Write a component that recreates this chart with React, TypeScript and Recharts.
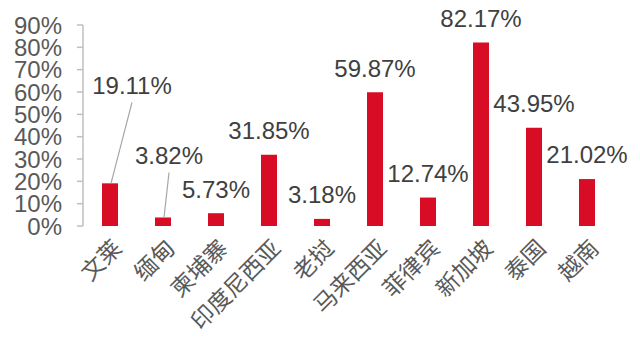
import { BarChart, Bar, XAxis, YAxis, LabelList } from "recharts";

const countries = ["文莱", "缅甸", "柬埔寨", "印度尼西亚", "老挝", "马来西亚", "菲律宾", "新加坡", "泰国", "越南"];
const shares = [19.11, 3.82, 5.73, 31.85, 3.18, 59.87, 12.74, 82.17, 43.95, 21.02];
const yTicks = [0, 10, 20, 30, 40, 50, 60, 70, 80, 90];
const edgeTicks = [0, 1, 2, 3, 4, 5, 6, 7, 8, 9, 10];

// label placement per bar: [shift right, rise above bar top]; big rise gets a leader line
const labelPos: [number, number][] = [
  [22, 98], [6, 62], [0, 24], [0, 24], [0, 24],
  [0, 24], [0, 24], [0, 24], [0, 24], [0, 24],
];

const data = countries.map((name, i) => ({ name, value: shares[i] }));

const RED = "#D80C24";
const FONT = "'Liberation Sans', Arial, sans-serif";

// eslint-disable-next-line @typescript-eslint/no-explicit-any
function ValueLabel(props: any) {
  const { x, y, width, value, index } = props;
  const [dx, rise] = labelPos[index] ?? [0, 24];
  const cx = Number(x) + Number(width) / 2;
  const top = Number(y);
  const ty = top - rise;
  return (
    <g>
      {rise > 30 && (
        <line x1={cx + dx} y1={ty + 17} x2={cx + 1} y2={top} stroke="#a6a6a6" strokeWidth={1.2} />
      )}
      <text x={cx + dx} y={ty} dy="0.35em" textAnchor="middle" fontSize={24} fill="#404040" fontFamily={FONT}>
        {Number(value).toFixed(2)}%
      </text>
    </g>
  );
}

// eslint-disable-next-line @typescript-eslint/no-explicit-any
function CountryTick({ x, y, payload }: any) {
  const ax = x + 8;
  const ay = y + 10;
  return (
    <text
      x={ax} y={ay} dy="0.35em"
      transform={`rotate(-45 ${ax} ${ay})`}
      textAnchor="end" fontSize={23} fill="#595959"
      fontFamily="'Noto Sans CJK SC', sans-serif"
    >
      {payload.value}
    </text>
  );
}

export default function App() {
  return (
    <div style={{ position: "absolute", left: 0, top: 0, background: "#fff" }}>
      <BarChart
        width={640} height={345} data={data}
        margin={{ top: 25, right: 27, left: 0, bottom: 0 }}
        style={{ fontFamily: FONT }}
      >
        <XAxis
          xAxisId={0} type="number" domain={[0, 10]} ticks={edgeTicks}
          allowDataOverflow height={0} tick={false}
          axisLine={{ stroke: "#bfbfbf", strokeWidth: 1.5 }}
          tickLine={{ stroke: "#bfbfbf", strokeWidth: 1.5 }} tickSize={6}
        />
        <XAxis
          xAxisId="names" dataKey="name" height={119}
          axisLine={false} tickLine={false} interval={0} tick={<CountryTick />}
        />
        <YAxis
          domain={[0, 90]} ticks={yTicks} width={83} interval={0}
          tickFormatter={(v: number) => `${v}%`}
          tick={{ fontSize: 24, fill: "#595959" }}
          axisLine={{ stroke: "#bfbfbf", strokeWidth: 1.5 }}
          tickLine={{ stroke: "#bfbfbf", strokeWidth: 1.5 }} tickSize={6} tickMargin={15}
        />
        <Bar xAxisId="names" dataKey="value" fill={RED} barSize={16} isAnimationActive={false}>
          <LabelList dataKey="value" content={<ValueLabel />} />
        </Bar>
      </BarChart>
    </div>
  );
}
